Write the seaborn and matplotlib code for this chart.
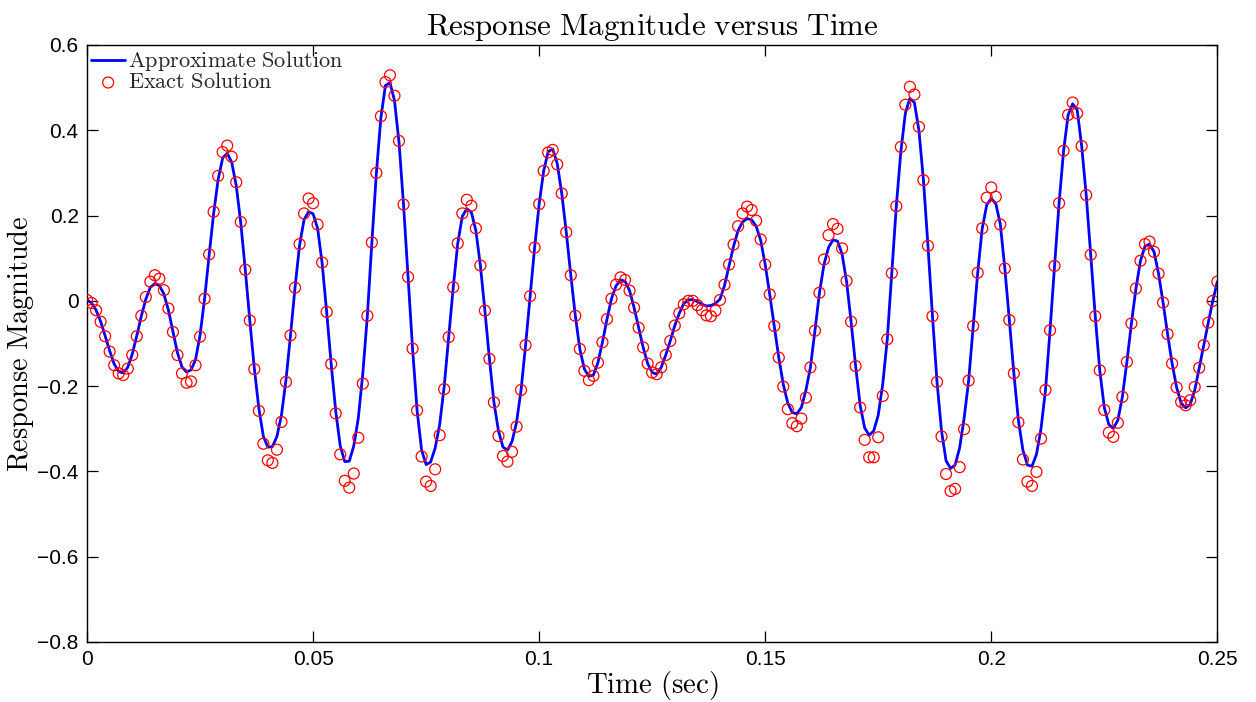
import numpy as np
import pandas as pd
import matplotlib
matplotlib.use("Agg")
import matplotlib.pyplot as plt
from matplotlib.ticker import FixedLocator, FixedFormatter
import seaborn as sns

# ---------------- data ----------------
dt = 0.001  # sample spacing of the exact-solution points (s)

exact = [
    0.002, -0.005, -0.022, -0.049, -0.083, -0.119, -0.151, -0.170, -0.174, -0.159,
    -0.127, -0.083, -0.035, 0.009, 0.045, 0.060, 0.052, 0.025, -0.018, -0.073,
    -0.127, -0.170, -0.192, -0.189, -0.151, -0.084, 0.005, 0.109, 0.209, 0.293,
    0.349, 0.364, 0.338, 0.278, 0.185, 0.073, -0.046, -0.160, -0.258, -0.335,
    -0.374, -0.380, -0.349, -0.284, -0.190, -0.081, 0.031, 0.133, 0.205, 0.240,
    0.229, 0.179, 0.090, -0.026, -0.148, -0.264, -0.360, -0.422, -0.438, -0.405,
    -0.321, -0.194, -0.035, 0.137, 0.300, 0.433, 0.513, 0.529, 0.481, 0.375,
    0.226, 0.056, -0.112, -0.257, -0.365, -0.424, -0.434, -0.395, -0.315, -0.207,
    -0.085, 0.032, 0.135, 0.205, 0.237, 0.223, 0.170, 0.083, -0.023, -0.136,
    -0.238, -0.317, -0.364, -0.377, -0.354, -0.295, -0.209, -0.104, 0.011, 0.125,
    0.227, 0.305, 0.348, 0.354, 0.320, 0.252, 0.161, 0.060, -0.035, -0.113,
    -0.164, -0.186, -0.176, -0.145, -0.097, -0.043, 0.005, 0.038, 0.055, 0.049,
    0.024, -0.016, -0.063, -0.109, -0.147, -0.168, -0.172, -0.156, -0.127, -0.094,
    -0.058, -0.029, -0.008, 0.000, 0.000, -0.010, -0.022, -0.034, -0.036, -0.023,
    0.002, 0.038, 0.085, 0.132, 0.175, 0.205, 0.221, 0.213, 0.188, 0.144,
    0.085, 0.015, -0.059, -0.133, -0.201, -0.254, -0.287, -0.294, -0.276, -0.227,
    -0.156, -0.070, 0.019, 0.097, 0.154, 0.180, 0.169, 0.123, 0.047, -0.049,
    -0.153, -0.250, -0.326, -0.367, -0.367, -0.320, -0.223, -0.090, 0.065, 0.222,
    0.361, 0.460, 0.502, 0.484, 0.408, 0.283, 0.129, -0.036, -0.190, -0.318,
    -0.406, -0.446, -0.441, -0.390, -0.301, -0.187, -0.059, 0.066, 0.170, 0.242,
    0.266, 0.244, 0.179, 0.076, -0.045, -0.170, -0.285, -0.372, -0.424, -0.434,
    -0.401, -0.323, -0.209, -0.069, 0.082, 0.229, 0.352, 0.436, 0.465, 0.440,
    0.363, 0.248, 0.108, -0.036, -0.163, -0.256, -0.309, -0.319, -0.286, -0.225,
    -0.143, -0.053, 0.029, 0.094, 0.133, 0.139, 0.115, 0.064, -0.004, -0.078,
    -0.147, -0.203, -0.237, -0.245, -0.233, -0.202, -0.157, -0.104, -0.051, 0.000,
    0.045,
]

approx = [
    0.002, -0.005, -0.022, -0.048, -0.082, -0.117, -0.148, -0.166, -0.169, -0.156,
    -0.125, -0.082, -0.036, 0.004, 0.032, 0.040, 0.036, 0.016, -0.022, -0.072,
    -0.122, -0.155, -0.167, -0.162, -0.138, -0.080, 0.005, 0.107, 0.205, 0.285,
    0.335, 0.346, 0.325, 0.270, 0.183, 0.073, -0.046, -0.158, -0.252, -0.318,
    -0.343, -0.342, -0.318, -0.268, -0.186, -0.081, 0.031, 0.130, 0.190, 0.209,
    0.204, 0.170, 0.088, -0.026, -0.148, -0.258, -0.340, -0.377, -0.376, -0.340,
    -0.275, -0.170, -0.035, 0.137, 0.300, 0.430, 0.505, 0.512, 0.470, 0.372,
    0.226, 0.056, -0.112, -0.257, -0.350, -0.384, -0.378, -0.345, -0.290, -0.200,
    -0.085, 0.032, 0.135, 0.198, 0.216, 0.208, 0.165, 0.083, -0.023, -0.136,
    -0.238, -0.305, -0.343, -0.350, -0.330, -0.285, -0.209, -0.104, 0.011, 0.125,
    0.227, 0.305, 0.350, 0.356, 0.322, 0.252, 0.161, 0.060, -0.035, -0.113,
    -0.160, -0.177, -0.174, -0.145, -0.097, -0.043, 0.005, 0.035, 0.049, 0.046,
    0.024, -0.016, -0.063, -0.109, -0.147, -0.168, -0.172, -0.156, -0.127, -0.094,
    -0.058, -0.029, -0.006, 0.002, 0.003, -0.002, -0.008, -0.012, -0.011, -0.006,
    0.004, 0.036, 0.082, 0.128, 0.165, 0.185, 0.193, 0.190, 0.175, 0.142,
    0.085, 0.015, -0.059, -0.133, -0.196, -0.240, -0.262, -0.265, -0.250, -0.210,
    -0.156, -0.070, 0.019, 0.085, 0.125, 0.143, 0.140, 0.110, 0.045, -0.049,
    -0.153, -0.245, -0.298, -0.315, -0.305, -0.268, -0.195, -0.090, 0.065, 0.222,
    0.350, 0.440, 0.475, 0.465, 0.400, 0.283, 0.129, -0.036, -0.190, -0.305,
    -0.375, -0.393, -0.385, -0.345, -0.275, -0.187, -0.059, 0.066, 0.170, 0.225,
    0.240, 0.228, 0.180, 0.076, -0.045, -0.170, -0.280, -0.350, -0.385, -0.388,
    -0.360, -0.300, -0.209, -0.069, 0.082, 0.229, 0.352, 0.436, 0.462, 0.448,
    0.363, 0.248, 0.108, -0.036, -0.163, -0.250, -0.290, -0.299, -0.280, -0.225,
    -0.143, -0.053, 0.029, 0.094, 0.128, 0.133, 0.115, 0.064, -0.004, -0.078,
    -0.147, -0.203, -0.240, -0.251, -0.243, -0.210, -0.157, -0.104, -0.051, 0.000,
    0.045,
]

x_ticks = [0, 0.05, 0.1, 0.15, 0.2, 0.25]
x_tick_labels = ["0", "0.05", "0.1", "0.15", "0.2", "0.25"]
y_ticks = [-0.8, -0.6, -0.4, -0.2, 0, 0.2, 0.4, 0.6]
y_tick_labels = ["\u22120.8", "\u22120.6", "\u22120.4", "\u22120.2", "0", "0.2", "0.4", "0.6"]

title_text = r"$\mathrm{Response\ Magnitude\ versus\ Time}$"
xlabel_text = r"$\mathrm{Time\ (sec)}$"
ylabel_text = r"$\mathrm{Response\ Magnitude}$"
label_approx = r"$\mathrm{Approximate\ Solution}$"
label_exact = r"$\mathrm{Exact\ Solution}$"

# ---------------- build frame ----------------
t = np.arange(len(exact)) * dt
df = pd.DataFrame({"t": t, "exact": exact, "approx": approx})

sns.set_theme(style="white")
plt.rcParams["font.family"] = ["Liberation Sans", "DejaVu Sans"]
plt.rcParams["mathtext.fontset"] = "cm"
plt.rcParams["axes.unicode_minus"] = True

fig = plt.figure(figsize=(12.56, 7.02), dpi=100)
ax = fig.add_axes([0.0693, 0.0855, 0.8999, 0.8504])

sns.lineplot(data=df, x="t", y="approx", ax=ax, color="#0000ff", linewidth=2.0,
             label=label_approx, sort=False)
sns.scatterplot(data=df, x="t", y="exact", ax=ax, marker="o", s=62,
                facecolor="none", edgecolor="#ff0000", linewidth=0.9,
                label=label_exact, zorder=3)

ax.set_xlim(0, 0.25)
ax.set_ylim(-0.8, 0.6)
ax.xaxis.set_major_locator(FixedLocator(x_ticks))
ax.xaxis.set_major_formatter(FixedFormatter(x_tick_labels))
ax.yaxis.set_major_locator(FixedLocator(y_ticks))
ax.yaxis.set_major_formatter(FixedFormatter(y_tick_labels))

ax.tick_params(axis="both", which="major", direction="in", length=8, width=0.9,
               top=True, right=True, bottom=True, left=True,
               labelsize=15, colors="black", pad=6)
for sp in ax.spines.values():
    sp.set_visible(True)
    sp.set_color("black")
    sp.set_linewidth(1.0)

ax.set_title(title_text, fontsize=22.3, pad=7, color="black")
ax.set_xlabel(xlabel_text, fontsize=20.8, labelpad=0, color="black")
ax.set_ylabel(ylabel_text, fontsize=20.4, labelpad=1, color="black")

leg = ax.legend(loc="upper left", frameon=False, fontsize=16,
                handlelength=1.5, handletextpad=0.15, labelspacing=-0.05,
                borderaxespad=0.05, borderpad=0.15)

fig.savefig("out.png", dpi=100)
